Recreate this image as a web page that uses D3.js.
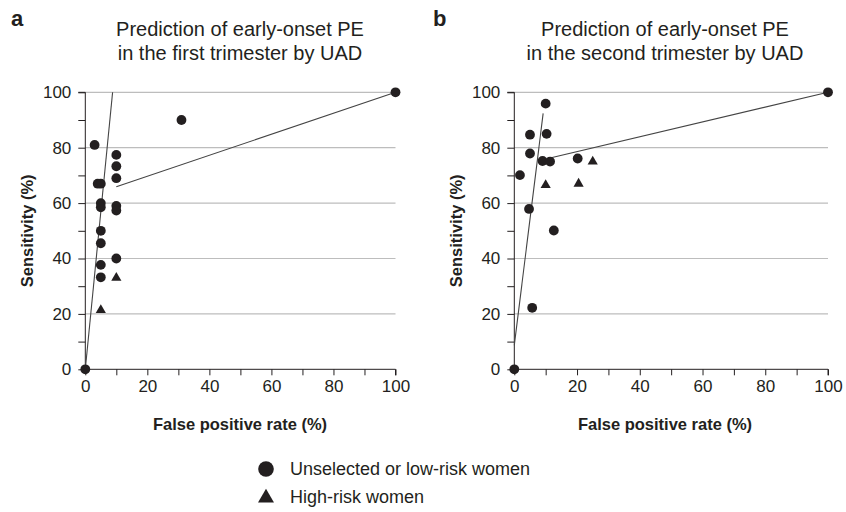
<!DOCTYPE html>
<html><head><meta charset="utf-8">
<script src="https://cdn.jsdelivr.net/npm/d3@7"></script>
<style>
html,body{margin:0;padding:0;background:#fff;}
text{font-family:"Liberation Sans",Arial,sans-serif;fill:#231f20;}
</style></head>
<body><svg id="chart" width="846" height="512"></svg>
<script>
// ---- data ----
const panelLetters = ["a", "b"];
const titleLine1 = ["Prediction of early-onset PE", "Prediction of early-onset PE"];
const titleLine2 = ["in the first trimester by UAD", "in the second trimester by UAD"];
const xTicks = [0, 20, 40, 60, 80, 100];
const yTicks = [0, 20, 40, 60, 80, 100];
const xLabel = "False positive rate (%)";
const yLabel = "Sensitivity (%)";
const legendLabels = ["Unselected or low-risk women", "High-risk women"];

// Panel a
const aLowFpr  = [0, 3, 31, 10, 10, 10, 10, 10, 10, 4, 5, 5, 5, 5, 5, 5, 5, 100];
const aLowSens = [0, 81, 90, 77.4, 73.3, 69, 59, 57.3, 40, 67, 67, 60, 58.5, 50, 45.5, 37.7, 33.2, 100];
const aHighFpr  = [10, 5];
const aHighSens = [33, 21.4];
const aLine1Fpr = [0, 8.8],  aLine1Sens = [0, 100];
const aLine2Fpr = [10, 100], aLine2Sens = [65.9, 100];

// Panel b
const bLowFpr  = [0, 10, 5, 10.3, 5, 9, 11.4, 20.2, 1.8, 4.7, 12.6, 5.7, 100];
const bLowSens = [0, 95.9, 84.7, 85, 77.9, 75.2, 75, 76.1, 70.1, 57.9, 50.1, 22.2, 100];
const bHighFpr  = [25, 10, 20.5];
const bHighSens = [75, 66.5, 67];
const bLine1Fpr = [0, 9.2],   bLine1Sens = [8.7, 92.4];
const bLine2Fpr = [11.4, 100], bLine2Sens = [76.3, 100];

const panels = [
  {low: [aLowFpr, aLowSens], high: [aHighFpr, aHighSens], lines: [[aLine1Fpr, aLine1Sens], [aLine2Fpr, aLine2Sens]]},
  {low: [bLowFpr, bLowSens], high: [bHighFpr, bHighSens], lines: [[bLine1Fpr, bLine1Sens], [bLine2Fpr, bLine2Sens]]}
];

// ---- layout ----
const svg = d3.select("#chart");
const plotLeft = [85.3, 514.3];
const plotRight = [395.5, 828];
const plotTop = 92.3, plotBottom = 369.3;
const letterX = [11, 433];
const titleCx = [240, 665];
const dark = "#231f20";

panels.forEach((p, i) => {
  const x = d3.scaleLinear().domain([0, 100]).range([plotLeft[i], plotRight[i]]);
  const y = d3.scaleLinear().domain([0, 100]).range([plotBottom, plotTop]);
  const g = svg.append("g");
  const cx = titleCx[i];

  // panel letter
  g.append("text").attr("x", letterX[i]).attr("y", 26)
    .attr("font-size", 22).attr("font-weight", "bold").text(panelLetters[i]);
  // title
  g.append("text").attr("x", cx).attr("y", 36).attr("text-anchor", "middle")
    .attr("font-size", 20).text(titleLine1[i]);
  g.append("text").attr("x", cx).attr("y", 60).attr("text-anchor", "middle")
    .attr("font-size", 20).text(titleLine2[i]);

  // gridlines
  g.append("g").selectAll("line").data(yTicks.filter(t => t > 0)).join("line")
    .attr("x1", plotLeft[i]).attr("x2", plotRight[i])
    .attr("y1", d => y(d)).attr("y2", d => y(d))
    .attr("stroke", "#bdbdbd").attr("stroke-width", 1.2);

  // y axis
  const yAxis = d3.axisLeft(y).tickValues(d3.range(0, 101, 10)).tickSize(7).tickPadding(7)
    .tickFormat(d => yTicks.includes(d) ? d : "");
  const ya = g.append("g").attr("transform", `translate(${plotLeft[i]},0)`).call(yAxis);
  ya.select(".domain").attr("stroke", dark).attr("d", `M-7,${y(100)}H0V${y(0)}`);
  ya.selectAll(".tick line").attr("stroke", dark);
  ya.selectAll(".tick text").attr("font-size", 17).attr("font-family", null).attr("fill", dark);

  // x axis
  const xAxis = d3.axisBottom(x).tickValues(d3.range(0, 101, 10)).tickSize(6).tickPadding(5)
    .tickFormat(d => xTicks.includes(d) ? d : "");
  const xa = g.append("g").attr("transform", `translate(0,${plotBottom})`).call(xAxis);
  xa.select(".domain").attr("stroke", dark).attr("d", `M${x(0)},0H${x(100)}V6`);
  xa.selectAll(".tick line").attr("stroke", dark);
  xa.selectAll(".tick text").attr("font-size", 17).attr("font-family", null).attr("fill", dark);

  // axis titles
  g.append("text").attr("x", cx).attr("y", 430).attr("text-anchor", "middle")
    .attr("font-size", 16.5).attr("font-weight", "bold").text(xLabel);
  g.append("text").attr("transform", `translate(${plotLeft[i] - 52},${(plotTop + plotBottom) / 2})) rotate(-90)`.replace("))", ")"))
    .attr("text-anchor", "middle").attr("font-size", 16.5).attr("font-weight", "bold").text(yLabel);

  // regression lines
  const line = d3.line().x(d => x(d[0])).y(d => y(d[1]));
  p.lines.forEach(([fx, sy]) => {
    g.append("path").datum(fx.map((v, k) => [v, sy[k]])).attr("d", line)
      .attr("fill", "none").attr("stroke", "#444").attr("stroke-width", 1.1);
  });

  // circles
  const lowData = p.low[0].map((v, k) => [v, p.low[1][k]]);
  g.append("g").selectAll("circle").data(lowData).join("circle")
    .attr("cx", d => x(d[0])).attr("cy", d => y(d[1])).attr("r", 4.9).attr("fill", dark);

  // triangles
  const highData = p.high[0].map((v, k) => [v, p.high[1][k]]);
  const tri = d3.symbol().type(d3.symbolTriangle).size(45);
  g.append("g").selectAll("path").data(highData).join("path")
    .attr("transform", d => `translate(${x(d[0])},${y(d[1])})`).attr("d", tri).attr("fill", dark);
});

// legend
const legend = svg.append("g");
legend.append("circle").attr("cx", 266).attr("cy", 469).attr("r", 7.8).attr("fill", dark);
legend.append("text").attr("x", 290).attr("y", 475).attr("font-size", 18).text(legendLabels[0]);
legend.append("path").attr("transform", "translate(266,498)")
  .attr("d", d3.symbol().type(d3.symbolTriangle).size(110)).attr("fill", dark);
legend.append("text").attr("x", 290).attr("y", 503).attr("font-size", 18).text(legendLabels[1]);
</script>
</body></html>
